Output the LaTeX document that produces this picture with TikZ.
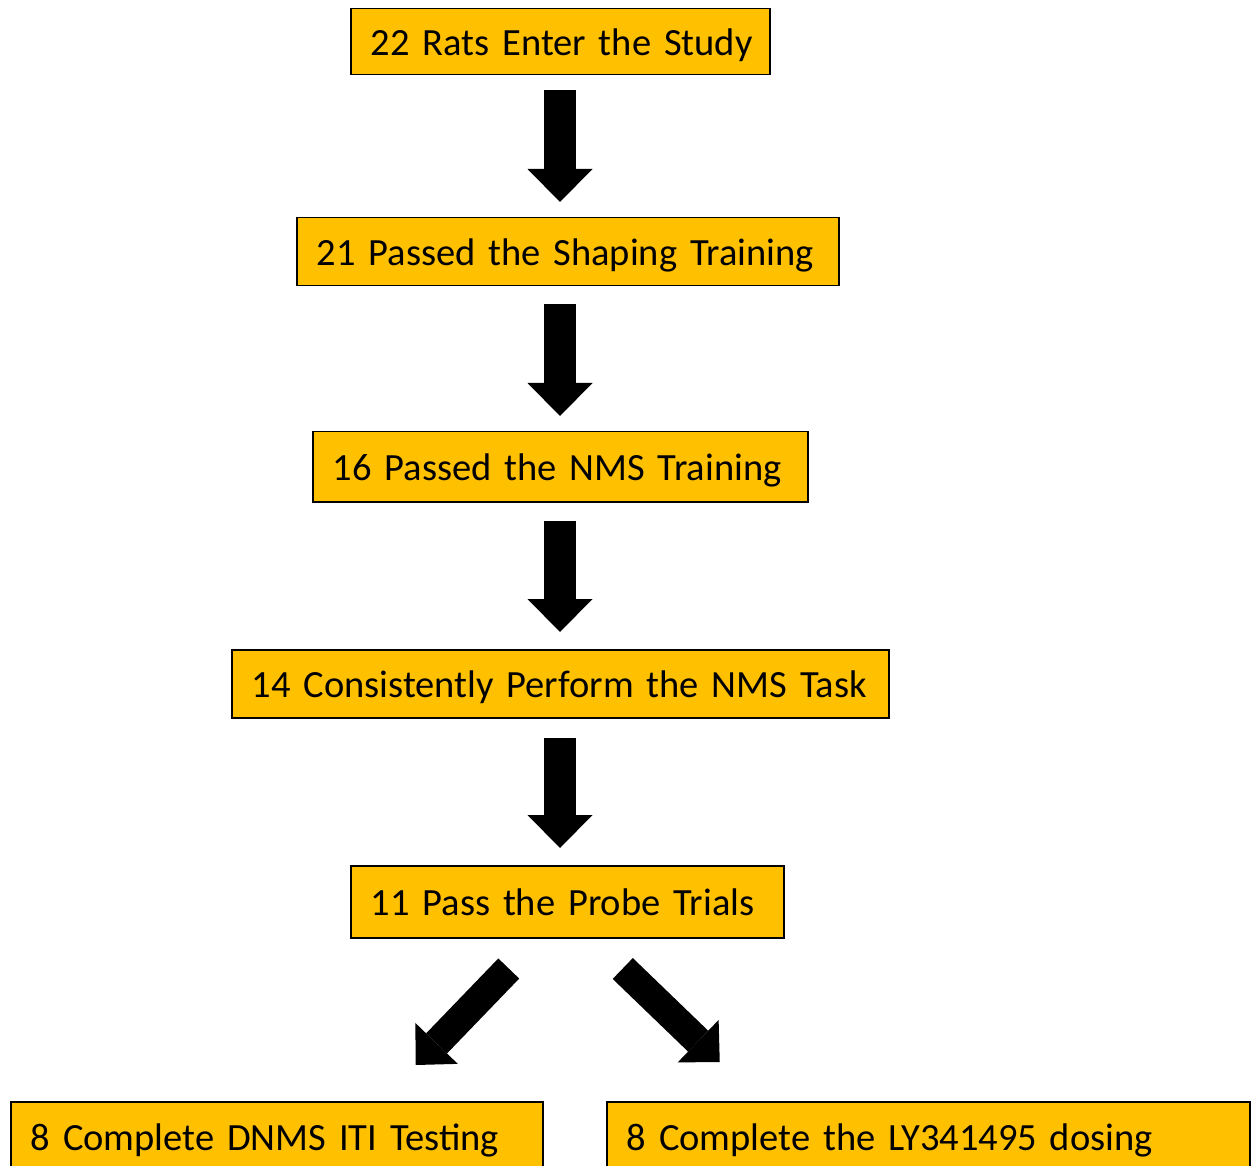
\documentclass[tikz,border=0pt]{standalone}
\usepackage{fontspec}
\setmainfont{Carlito}
\usetikzlibrary{arrows.meta,calc}
\definecolor{boxyellow}{HTML}{FFC000}
\begin{document}
\begin{tikzpicture}[x=1pt,y=-1pt,
  box/.style={draw=black, line width=1.5pt, fill=boxyellow, anchor=north west,
    inner xsep=20pt, inner ysep=0pt, align=left, text height=30pt, text depth=2pt,
    font=\fontsize{38.5}{46}\selectfont},
  blockarrow/.style={line width=32pt, -{Triangle[length=33pt,width=65pt,line width=0pt]}},
  diagarrow/.style={line width=29pt, -{Triangle[length=30pt,width=59pt,line width=0pt]}}]
\useasboundingbox (0,0) rectangle (1254,1166);
\clip (0,0) rectangle (1254,1166);
\node[box, minimum width=419pt, minimum height=66pt, text width=379pt] (b1) at (350,8) {\mbox{22 Rats Enter the Study}};
\node[box, minimum width=542pt, minimum height=68pt, text width=502pt] (b2) at (296,217) {\mbox{21 Passed the Shaping Training}};
\node[box, minimum width=495pt, minimum height=70pt, text width=455pt] (b3) at (312,431) {\mbox{16 Passed the NMS Training}};
\node[box, minimum width=657pt, minimum height=68pt, text width=617pt] (b4) at (231,649) {\mbox{14 Consistently Perform the NMS Task}};
\node[box, minimum width=433pt, minimum height=72pt, text width=393pt] (b5) at (350,865) {\mbox{11 Pass the Probe Trials}};
\node[box, minimum width=532pt, minimum height=70pt, text width=492pt] (b6) at (10,1101) {\mbox{8 Complete DNMS ITI Testing}};
\node[box, minimum width=643pt, minimum height=70pt, text width=603pt] (b7) at (606,1101) {\mbox{8 Complete the LY341495 dosing}};
\coordinate (cx) at (560,0);
\draw[blockarrow] ($(b1.south -| cx)+(0,15)$) -- ($(b2.north -| cx)+(0,-15)$);
\draw[blockarrow] ($(b2.south -| cx)+(0,18)$) -- ($(b3.north -| cx)+(0,-15)$);
\draw[blockarrow] ($(b3.south -| cx)+(0,18)$) -- ($(b4.north -| cx)+(0,-17)$);
\draw[blockarrow] ($(b4.south -| cx)+(0,19)$) -- ($(b5.north -| cx)+(0,-17)$);
\draw[diagarrow] ($(b5.south)+(-58.5,30)$) -- ($(b6.north)+(139,-36)$);
\draw[diagarrow] ($(b5.south)+(55.5,30)$) -- ($(b7.north)+(-208.5,-39)$);
\end{tikzpicture}
\end{document}
